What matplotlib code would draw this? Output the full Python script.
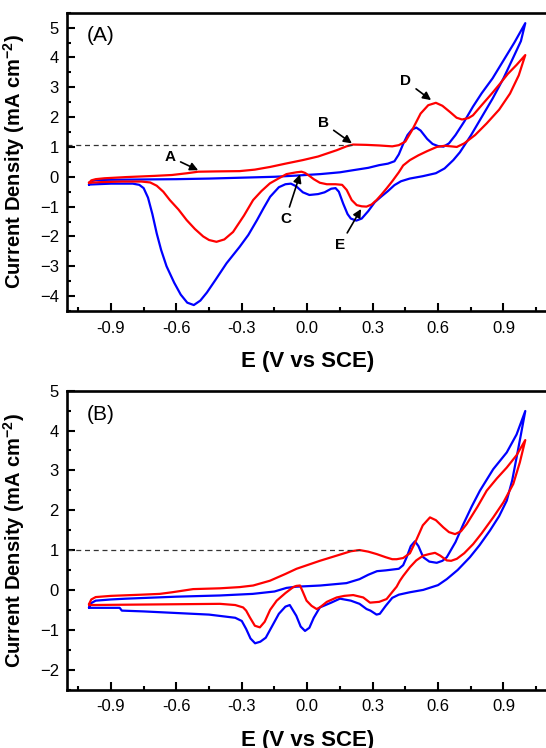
import matplotlib
matplotlib.use("Agg")
import matplotlib.pyplot as plt
from matplotlib.ticker import MultipleLocator

plt.rcParams['font.family'] = ['Liberation Sans', 'DejaVu Sans']
plt.rcParams['mathtext.default'] = 'regular'

# ---- panel (A) ----
a_blue_E = [-1.00, -0.99, -0.97, -0.90, -0.75, -0.60, -0.45, -0.30, -0.15, -0.05, 0.06, 0.15, 0.21, 0.28,
            0.33, 0.37, 0.40, 0.42, 0.44, 0.46, 0.48, 0.50, 0.52, 0.55, 0.575, 0.60, 0.625, 0.65, 0.68,
            0.72, 0.76, 0.80, 0.85, 0.90, 0.95, 1.00,
            0.98, 0.945, 0.90, 0.85, 0.80, 0.75, 0.70, 0.67, 0.63, 0.59, 0.53, 0.47, 0.43, 0.40, 0.37,
            0.34, 0.31, 0.28, 0.25, 0.225, 0.20, 0.185, 0.165, 0.145, 0.13, 0.11, 0.08, 0.05, 0.01,
            -0.02, -0.05, -0.075, -0.10, -0.13, -0.17, -0.20, -0.23, -0.27, -0.31, -0.37, -0.42, -0.46,
            -0.49, -0.52, -0.55, -0.58, -0.61, -0.645, -0.67, -0.69, -0.71, -0.73, -0.75, -0.77, -0.80,
            -0.90, -1.00]
a_blue_J = [-0.26, -0.15, -0.11, -0.10, -0.09, -0.08, -0.06, -0.03, 0.00, 0.04, 0.09, 0.15, 0.22, 0.30,
            0.39, 0.44, 0.52, 0.75, 1.10, 1.40, 1.58, 1.65, 1.55, 1.27, 1.10, 1.03, 1.01, 1.12, 1.40,
            1.85, 2.35, 2.80, 3.30, 3.90, 4.50, 5.15,
            4.55, 4.00, 3.30, 2.62, 2.00, 1.38, 0.82, 0.56, 0.28, 0.12, 0.02, -0.06, -0.15, -0.28, -0.48,
            -0.66, -0.85, -1.15, -1.40, -1.47, -1.40, -1.25, -0.90, -0.50, -0.38, -0.40, -0.52, -0.58, -0.61,
            -0.52, -0.32, -0.23, -0.25, -0.35, -0.67, -1.05, -1.45, -1.95, -2.35, -2.90, -3.45, -3.88,
            -4.15, -4.30, -4.22, -3.95, -3.55, -3.00, -2.45, -1.90, -1.25, -0.70, -0.38, -0.27, -0.23,
            -0.23, -0.26]

a_red_E = [-1.00, -0.99, -0.97, -0.93, -0.83, -0.70, -0.62, -0.55, -0.50, -0.42, -0.31, -0.24, -0.17,
           -0.10, -0.02, 0.05, 0.135, 0.18, 0.21, 0.27, 0.33, 0.39, 0.42, 0.45, 0.48, 0.52, 0.555, 0.59,
           0.62, 0.655, 0.685, 0.71, 0.74, 0.76, 0.80, 0.85, 0.884, 0.92, 0.96, 1.00,
           0.97, 0.93, 0.88, 0.823, 0.77, 0.72, 0.686, 0.66, 0.63, 0.594, 0.55, 0.51, 0.471, 0.44, 0.42,
           0.39, 0.364, 0.34, 0.318, 0.295, 0.272, 0.25, 0.227, 0.204, 0.181, 0.16, 0.13, 0.09, 0.058,
           0.03, 0.012, -0.01, -0.026, -0.05, -0.095, -0.13, -0.171, -0.21, -0.248, -0.29, -0.34, -0.38,
           -0.416, -0.45, -0.477, -0.515, -0.553, -0.59, -0.63, -0.66, -0.69, -0.72, -0.76, -0.85, -0.95,
           -1.00]
a_red_J = [-0.20, -0.12, -0.08, -0.05, -0.01, 0.03, 0.06, 0.12, 0.17, 0.18, 0.19, 0.24, 0.33,
           0.44, 0.56, 0.68, 0.89, 1.02, 1.08, 1.07, 1.05, 1.02, 1.06, 1.18, 1.55, 2.12, 2.40, 2.48,
           2.38, 2.17, 1.98, 1.92, 1.97, 2.06, 2.40, 2.82, 3.12, 3.45, 3.75, 4.08,
           3.40, 2.79, 2.25, 1.79, 1.40, 1.12, 1.00, 1.02, 1.04, 1.00, 0.86, 0.72, 0.56, 0.38, 0.15,
           -0.15, -0.39, -0.60, -0.78, -0.93, -1.00, -0.99, -0.95, -0.78, -0.44, -0.27, -0.25, -0.25, -0.20,
           -0.08, 0.02, 0.13, 0.17, 0.15, 0.09, -0.05, -0.22, -0.48, -0.78, -1.30, -1.85, -2.10,
           -2.18, -2.12, -2.00, -1.75, -1.45, -1.10, -0.78, -0.50, -0.30, -0.19, -0.16, -0.16, -0.18,
           -0.20]

# ---- panel (B) ----
b_blue_E = [-1.00, -0.99, -0.97, -0.90, -0.83, -0.60, -0.40, -0.25, -0.15, -0.095, -0.05, 0.06, 0.18,
            0.24, 0.28, 0.32, 0.36, 0.42, 0.44, 0.456, 0.475, 0.494, 0.51, 0.532, 0.56, 0.594, 0.62, 0.64,
            0.68, 0.716, 0.755, 0.792, 0.853, 0.915, 0.96, 1.00,
            0.98, 0.96, 0.94, 0.915, 0.88, 0.838, 0.79, 0.746, 0.69, 0.64, 0.60, 0.532, 0.47, 0.42, 0.39,
            0.36, 0.333, 0.318, 0.29, 0.272, 0.24, 0.20, 0.15, 0.11, 0.058, 0.03, 0.01, -0.01, -0.03,
            -0.05, -0.08, -0.10, -0.13, -0.16, -0.19, -0.215, -0.239, -0.26, -0.28, -0.30, -0.33, -0.45,
            -0.60, -0.75, -0.85, -0.86, -1.00]
b_blue_J = [-0.44, -0.33, -0.27, -0.24, -0.22, -0.17, -0.14, -0.10, -0.04, 0.05, 0.08, 0.11, 0.17,
            0.27, 0.38, 0.47, 0.49, 0.53, 0.62, 0.82, 1.10, 1.22, 1.10, 0.82, 0.71, 0.68, 0.73, 0.82,
            1.20, 1.65, 2.10, 2.49, 3.03, 3.45, 3.90, 4.49,
            3.90, 3.32, 2.75, 2.24, 1.85, 1.49, 1.12, 0.82, 0.50, 0.27, 0.12, 0.00, -0.06, -0.12, -0.20,
            -0.40, -0.60, -0.62, -0.52, -0.48, -0.35, -0.27, -0.22, -0.32, -0.44, -0.70, -0.95, -1.03, -0.92,
            -0.65, -0.38, -0.42, -0.60, -0.90, -1.20, -1.30, -1.34, -1.22, -0.98, -0.78, -0.70, -0.62,
            -0.58, -0.54, -0.52, -0.45, -0.45]

b_red_E = [-1.00, -0.99, -0.97, -0.90, -0.76, -0.676, -0.62, -0.523, -0.40, -0.31, -0.248, -0.171, -0.10,
           -0.049, 0.058, 0.135, 0.20, 0.24, 0.28, 0.318, 0.36, 0.39, 0.41, 0.44, 0.471, 0.50, 0.53, 0.563,
           0.59, 0.624, 0.65, 0.678, 0.705, 0.731, 0.78, 0.823, 0.87, 0.915, 0.96, 1.00,
           0.975, 0.945, 0.90, 0.853, 0.80, 0.761, 0.72, 0.686, 0.66, 0.64, 0.61, 0.586, 0.56, 0.532, 0.50,
           0.471, 0.44, 0.425, 0.41, 0.395, 0.364, 0.33, 0.288, 0.257, 0.211, 0.17, 0.135, 0.09, 0.058,
           0.043, 0.02, -0.003, -0.02, -0.033, -0.05, -0.064, -0.10, -0.14, -0.17, -0.195, -0.217, -0.24,
           -0.263, -0.28, -0.294, -0.33, -0.40, -0.60, -0.80, -1.00]
b_red_J = [-0.35, -0.24, -0.18, -0.15, -0.12, -0.10, -0.06, 0.02, 0.04, 0.07, 0.11, 0.23, 0.40,
           0.53, 0.73, 0.86, 0.97, 1.00, 0.96, 0.90, 0.82, 0.77, 0.77, 0.80, 0.92, 1.25, 1.62, 1.82,
           1.75, 1.57, 1.45, 1.40, 1.47, 1.65, 2.08, 2.49, 2.80, 3.07, 3.38, 3.76,
           3.20, 2.66, 2.20, 1.82, 1.42, 1.15, 0.92, 0.78, 0.73, 0.74, 0.86, 0.93, 0.90, 0.86, 0.74,
           0.57, 0.35, 0.23, 0.08, -0.02, -0.23, -0.30, -0.32, -0.19, -0.13, -0.15, -0.19, -0.30, -0.44,
           -0.48, -0.40, -0.27, -0.05, 0.11, 0.10, 0.07, -0.08, -0.27, -0.50, -0.80, -0.94, -0.90,
           -0.69, -0.52, -0.44, -0.38, -0.35, -0.36, -0.37, -0.38]

# dashed reference levels (E end, J level)
a_dash = (0.21, 1.08)
b_dash = (0.24, 1.00)

# peak labels in (A): letter, tip (E, J), text (E, J)
a_marks = [
    ("A", (-0.50, 0.22), (-0.63, 0.67)),
    ("B", (0.205, 1.12), (0.073, 1.81)),
    ("C", (-0.033, 0.08), (-0.10, -1.43)),
    ("D", (0.568, 2.57), (0.451, 3.21)),
    ("E", (0.247, -1.08), (0.151, -2.29)),
]

fig = plt.figure(figsize=(5.46, 7.48), dpi=100)
ax_a = fig.add_axes([0.1233, 0.5842, 0.8787, 0.3988])
ax_b = fig.add_axes([0.1233, 0.0782, 0.8787, 0.3995])


def style(ax, ylim, tag):
    ax.set_xlim(-1.1, 1.1)
    ax.set_ylim(*ylim)
    ax.xaxis.set_major_locator(MultipleLocator(0.3))
    ax.xaxis.set_minor_locator(MultipleLocator(0.15))
    ax.yaxis.set_major_locator(MultipleLocator(1))
    ax.yaxis.set_minor_locator(MultipleLocator(0.5))
    ax.set_xticks([-0.9, -0.6, -0.3, 0.0, 0.3, 0.6, 0.9])
    ax.set_xticklabels(['-0.9', '-0.6', '-0.3', '0.0', '0.3', '0.6', '0.9'])
    ax.tick_params(which='both', direction='in', top=False, right=False, width=1.5, labelsize=12)
    ax.tick_params(which='major', length=5.5)
    ax.tick_params(which='minor', length=3)
    ax.tick_params(axis='x', pad=7)
    ax.tick_params(axis='y', pad=6)
    for s in ['left', 'bottom', 'top']:
        ax.spines[s].set_linewidth(1.9)
    ax.spines['right'].set_visible(False)
    ax.set_xlabel('E (V vs SCE)', fontsize=16, fontweight='bold', labelpad=11)
    ax.set_ylabel('Current Density (mA cm$^{-2}$)', fontsize=14.5, fontweight='bold')
    ax.yaxis.set_label_coords(-0.085, 0.5)
    ax.text(0.04, 0.925 if tag == '(A)' else 0.92, tag, transform=ax.transAxes, fontsize=15,
            va='center', ha='left')


style(ax_a, (-4.5, 5.5), '(A)')
style(ax_b, (-2.5, 5.0), '(B)')

ax_a.plot(a_blue_E, a_blue_J, color='#0000ff', lw=1.6, solid_joinstyle='round')
ax_a.plot(a_red_E, a_red_J, color='#ff0000', lw=1.6, solid_joinstyle='round')
ax_a.plot([-1.1, a_dash[0]], [a_dash[1], a_dash[1]], ls=(0, (4, 3)), color='#333333', lw=0.9)

for letter, tip, txt in a_marks:
    ax_a.annotate(letter, xy=tip, xytext=txt, ha='center', va='center', fontsize=11, fontweight='bold',
                  arrowprops=dict(arrowstyle='-|>', color='k', lw=1.2, mutation_scale=12,
                                  shrinkA=2, shrinkB=0))

ax_b.plot(b_blue_E, b_blue_J, color='#0000ff', lw=1.6, solid_joinstyle='round')
ax_b.plot(b_red_E, b_red_J, color='#ff0000', lw=1.6, solid_joinstyle='round')
ax_b.plot([-1.1, b_dash[0]], [b_dash[1], b_dash[1]], ls=(0, (4, 3)), color='#333333', lw=0.9)

fig.savefig('out.png', dpi=100)
